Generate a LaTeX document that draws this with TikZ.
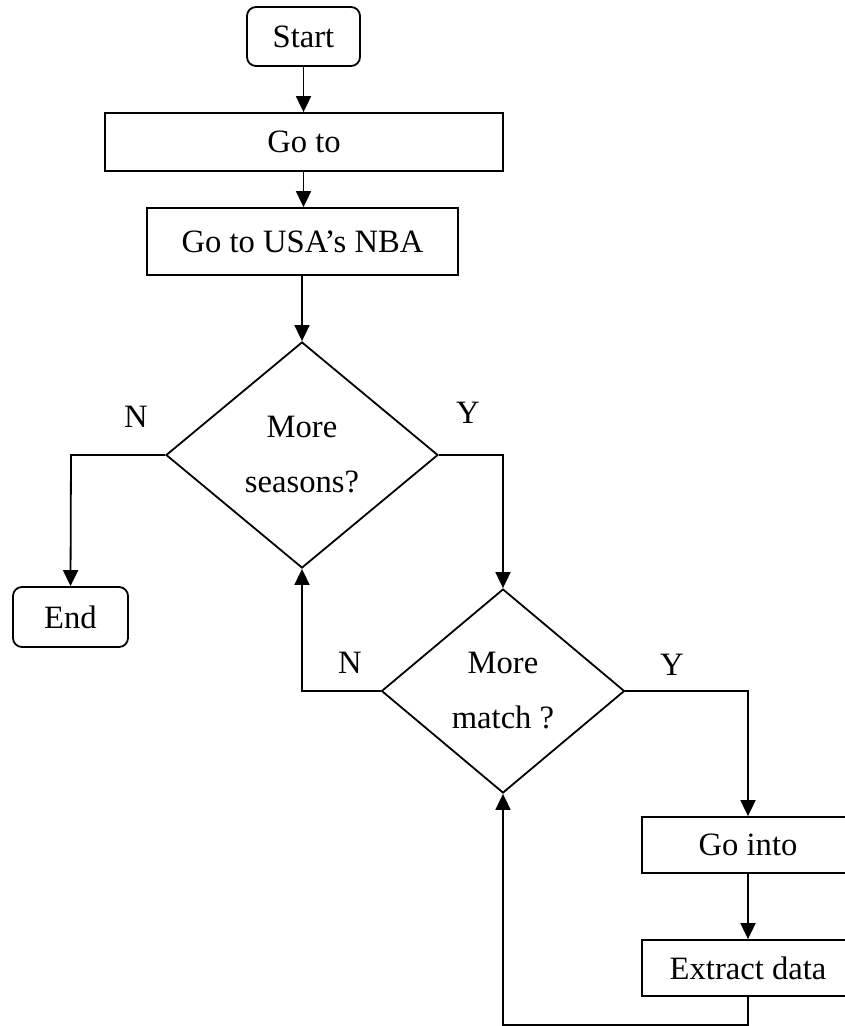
\documentclass[tikz,border=0pt]{standalone}
\usepackage{fontspec}
\setmainfont{Liberation Serif}
\usetikzlibrary{arrows.meta,shapes.geometric}
\begin{document}
\begin{tikzpicture}[x=1pt,y=-1pt,
  every node/.style={font=\fontsize{32.6}{55}\selectfont, inner sep=0pt},
  box/.style={draw, line width=1.8pt, rectangle},
  term/.style={draw, line width=1.8pt, rectangle, rounded corners=9pt},
  dec/.style={draw, line width=1.8pt, diamond, align=center},
  lbl/.style={},
  arr/.style={line width=1.8pt, -{Triangle[width=15pt,length=16pt]}}]
\clip (0,0) rectangle (845,1026);
\node[term, minimum width=113pt, minimum height=59pt] (start) at (303.5,36.5) {Start};
\node[box, minimum width=398pt, minimum height=58pt] (goto) at (304,142) {Go to};
\node[box, minimum width=311pt, minimum height=67pt] (nba) at (302.5,241.5) {Go to USA’s NBA};
\node[dec, minimum width=272pt, minimum height=226pt] (d1) at (302,455) {More\\seasons?};
\node[term, minimum width=115pt, minimum height=60pt] (end) at (70.5,617) {End};
\node[dec, minimum width=243pt, minimum height=204pt] (d2) at (503,691) {More\\match ?};
\node[box, minimum width=212pt, minimum height=56pt] (goin) at (748,845) {Go into};
\node[box, minimum width=212pt, minimum height=56pt] (extract) at (748,968) {Extract data};
\node[lbl] (n1) at (136,417) {N};
\node[lbl] (y1) at (468,413) {Y};
\node[lbl] (n2) at (350,663) {N};
\node[lbl] (y2) at (672,665) {Y};
\coordinate (c1) at (71,455);
\coordinate (c2) at (503,455);
\coordinate (c3) at (302,691);
\coordinate (c4) at (748,691);
\coordinate (c5) at (748,1025);
\coordinate (c6) at (503,1025);
\draw[arr] (start.south) -- (start.south |- goto.north);
\draw[arr] (goto.south -| start.south) -- (nba.north -| start.south);
\draw[arr] (nba.south -| d1.north) -- (d1.north);
\draw[arr] (d1.west) -- (c1) -- (end.north);
\draw[arr] (d1.east) -- (c2) -- (d2.north);
\draw[arr] (d2.west) -- (c3) -- (d1.south);
\draw[arr] (d2.east) -- (c4) -- (goin.north);
\draw[arr] (goin.south) -- (extract.north);
\draw[arr] (extract.south) -- (c5) -- (c6) -- (d2.south);
\end{tikzpicture}
\end{document}
